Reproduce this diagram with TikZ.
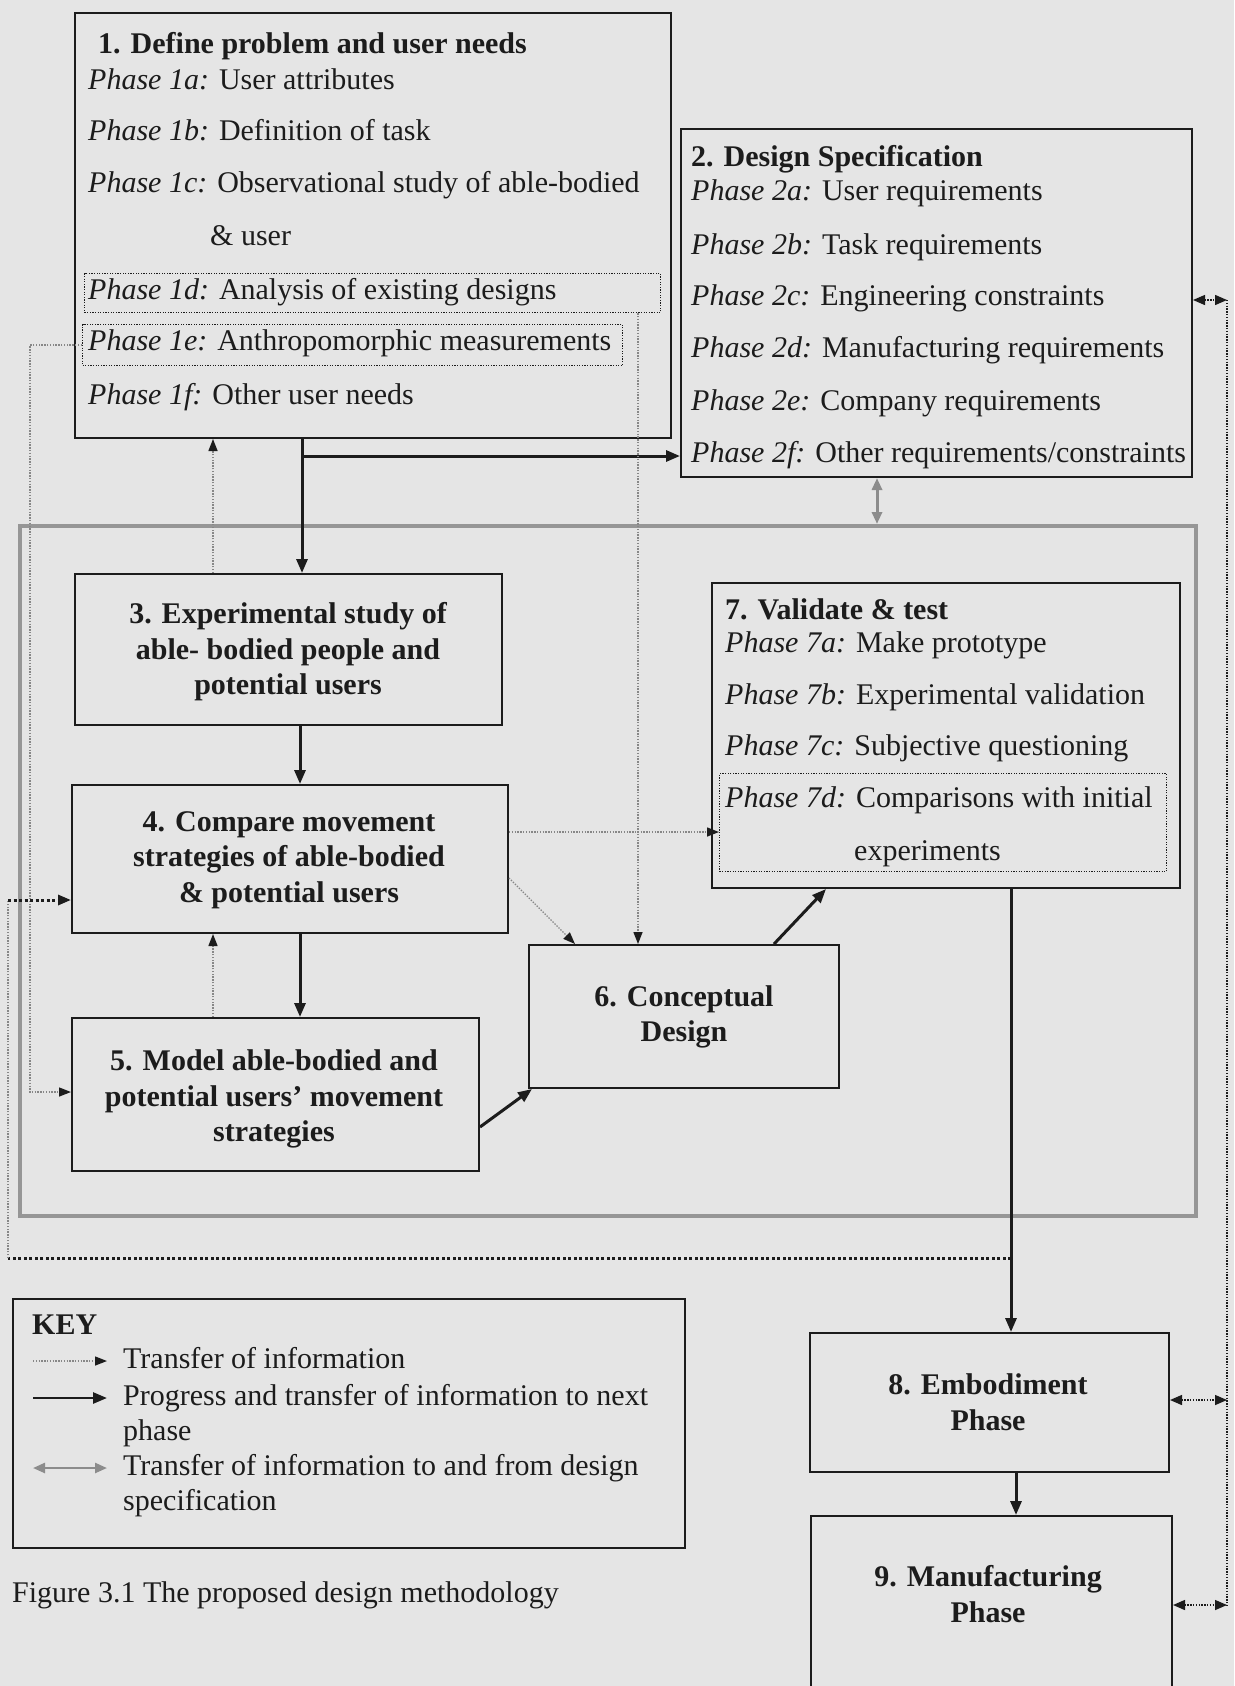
\documentclass[tikz,border=0pt]{standalone}
\usepackage{fontspec}
\setmainfont{Liberation Serif}
\usetikzlibrary{arrows.meta}
\definecolor{paper}{RGB}{229,229,229}
\definecolor{ink}{RGB}{28,28,28}
\definecolor{infogray}{RGB}{135,135,135}
\definecolor{framegray}{RGB}{150,150,150}
\definecolor{specgray}{RGB}{140,140,140}
\newcommand\dfont{\fontsize{30}{35.5}\selectfont}
\begin{document}
\begin{tikzpicture}[x=1pt,y=-1pt,
  every node/.style={text=ink},
  box/.style={draw=ink, line width=2pt, rectangle, inner sep=0pt, anchor=north west},
  dbox/.style={draw=ink, line width=1.2pt, dash pattern=on 1.2pt off 1.4pt, rectangle, inner sep=0pt, anchor=north west},
  cbox/.style={draw=ink, line width=2pt, rectangle, inner sep=0pt, align=center, font=\dfont\bfseries},
  ph/.style={anchor=west, inner sep=0pt, text height=21pt, text depth=7pt, font=\dfont},
  hd/.style={ph, font=\dfont\bfseries},
  ctext/.style={inner sep=0pt, align=center, font=\dfont\bfseries},
  prog/.style={draw=ink, line width=3pt, -{Triangle[length=14pt,width=11pt]}},
  info/.style={draw=infogray, line width=1.4pt, dash pattern=on 1.4pt off 1.4pt,
    -{Triangle[length=12pt,width=9pt,color=ink]}},
  loopd/.style={draw=ink, line width=3pt, dash pattern=on 3pt off 2.5pt},
  loopthin/.style={draw=infogray, line width=1.4pt, dash pattern=on 1.4pt off 1.4pt},
  spec/.style={draw=specgray, line width=3pt,
    {Triangle[length=12pt,width=10pt]}-{Triangle[length=12pt,width=10pt]}},
  both/.style={draw=ink, line width=1.4pt, dash pattern=on 1.4pt off 1.4pt,
    {Triangle[length=12pt,width=10pt]}-{Triangle[length=12pt,width=10pt]}}
]
\clip (0,0) rectangle (1234,1686);
\fill[paper] (0,0) rectangle (1234,1686);

% outer frame around phases 3 to 7
\node[draw=framegray, line width=4pt, rectangle, inner sep=0pt, anchor=north west,
  minimum width=1176pt, minimum height=690pt] (frame) at (18,524) {};

% box 1
\node[box, minimum width=596pt, minimum height=425pt] (b1) at (74,12) {};
\node[dbox, minimum width=576pt, minimum height=39pt] (d1d) at (84,273) {};
\node[dbox, minimum width=540pt, minimum height=41pt] (d1e) at (82,324) {};
\node[hd] (t1) at (98,47) {1. Define problem and user needs};
\node[ph] (l1a) at (88,82) {\textit{Phase 1a:} User attributes};
\node[ph] (l1b) at (88,133) {\textit{Phase 1b:} Definition of task};
\node[ph] (l1c) at (88,185) {\textit{Phase 1c:} Observational study of able-bodied};
\node[ph] (l1c2) at (210,238) {\& user};
\node[ph] (l1d) at (88,292) {\textit{Phase 1d:} Analysis of existing designs};
\node[ph] (l1e) at (88,343) {\textit{Phase 1e:} Anthropomorphic measurements};
\node[ph] (l1f) at (88,397) {\textit{Phase 1f:} Other user needs};

% box 2
\node[box, minimum width=511pt, minimum height=348pt] (b2) at (680,128) {};
\node[hd] (t2) at (691,159) {2. Design Specification};
\node[ph] (l2a) at (691,193) {\textit{Phase 2a:} User requirements};
\node[ph] (l2b) at (691,247) {\textit{Phase 2b:} Task requirements};
\node[ph] (l2c) at (691,298) {\textit{Phase 2c:} Engineering constraints};
\node[ph] (l2d) at (691,350) {\textit{Phase 2d:} Manufacturing requirements};
\node[ph] (l2e) at (691,403) {\textit{Phase 2e:} Company requirements};
\node[ph] (l2f) at (691,455) {\textit{Phase 2f:} Other requirements/constraints};

% boxes 3 to 6
\node[box, minimum width=427pt, minimum height=151pt] (b3) at (74,573) {};
\node[ctext] (t3) at (288,652) {3. Experimental study of\\able- bodied people and\\potential users};
\node[box, minimum width=436pt, minimum height=148pt] (b4) at (71,784) {};
\node[ctext] (t4) at (289,860) {4. Compare movement\\strategies of able-bodied\\\& potential users};
\node[box, minimum width=407pt, minimum height=153pt] (b5) at (71,1017) {};
\node[ctext] (t5) at (274,1099) {5. Model able-bodied and\\potential users’ movement\\strategies};
\node[box, minimum width=310pt, minimum height=143pt] (b6) at (528,944) {};
\node[ctext] (t6) at (684,1017) {6. Conceptual\\Design};

% box 7
\node[box, minimum width=468pt, minimum height=305pt] (b7) at (711,582) {};
\node[dbox, minimum width=447pt, minimum height=98pt] (d7d) at (719,773) {};
\node[hd] (t7) at (725,612) {7. Validate \& test};
\node[ph] (l7a) at (725,645) {\textit{Phase 7a:} Make prototype};
\node[ph] (l7b) at (725,697) {\textit{Phase 7b:} Experimental validation};
\node[ph] (l7c) at (725,748) {\textit{Phase 7c:} Subjective questioning};
\node[ph] (l7d) at (725,800) {\textit{Phase 7d:} Comparisons with initial};
\node[ph] (l7d2) at (854,853) {experiments};

% boxes 8 and 9
\node[box, minimum width=359pt, minimum height=139pt] (b8) at (809,1332) {};
\node[ctext] (t8) at (988,1402) {8. Embodiment\\Phase};
\node[box, minimum width=361pt, minimum height=215pt] (b9) at (810,1515) {};
\node[ctext] (t9) at (988,1594) {9. Manufacturing\\Phase};

% key
\node[box, minimum width=672pt, minimum height=249pt] (key) at (12,1298) {};
\node[hd] (kt) at (32,1327) {KEY};
\coordinate (ka1) at (33,1361); \coordinate (kb1) at (107,1361);
\coordinate (ka2) at (33,1398); \coordinate (kb2) at (107,1398);
\coordinate (ka3) at (33,1468); \coordinate (kb3) at (107,1468);
\draw[info] (ka1) -- (kb1);
\draw[prog, line width=2.6pt] (ka2) -- (kb2);
\draw[spec, line width=2.4pt] (ka3) -- (kb3);
\node[ph] (k1) at (123,1361) {Transfer of information};
\node[ph] (k2) at (123,1398) {Progress and transfer of information to next};
\node[ph] (k2b) at (123,1433) {phase};
\node[ph] (k3) at (123,1468) {Transfer of information to and from design};
\node[ph] (k3b) at (123,1503) {specification};

% caption
\node[ph] (cap) at (12,1595) {Figure 3.1 The proposed design methodology};

% progress connectors
\coordinate (j1) at (302,456);
\draw[prog] (j1 |- b1.south) -- (j1 |- b3.north);
\draw[prog] (j1) -- (j1 -| b2.west);
\coordinate (x34) at (300,0);
\draw[prog] (x34 |- b3.south) -- (x34 |- b4.north);
\draw[prog] (x34 |- b4.south) -- (x34 |- b5.north);
\coordinate (h56) at (0,1127);
\draw[prog] (b5.east |- h56) -- ([xshift=4pt]b6.south west);
\coordinate (x67a) at (774,0);
\coordinate (x67b) at (826,0);
\draw[prog] (x67a |- b6.north) -- (x67b |- b7.south);
\coordinate (x78) at (1011,0);
\draw[prog] (x78 |- b7.south) -- (x78 |- b8.north);
\coordinate (x89) at (1016,0);
\draw[prog] (x89 |- b8.south) -- (x89 |- b9.north);

% information connectors
\coordinate (xu) at (213,0);
\draw[info] (xu |- b3.north) -- (xu |- b1.south);
\draw[info] (xu |- b5.north) -- (xu |- b4.south);
\coordinate (x16) at (638,0);
\draw[info] (x16 |- d1d.south) -- (x16 |- b6.north);
\coordinate (xl) at (30,0);
\coordinate (h15) at (0,1092);
\draw[info] (d1e.west) -- (xl |- d1e.west) -- (xl |- h15) -- (b5.west |- h15);
\coordinate (h47) at (0,832);
\draw[info] (b4.east |- h47) -- (d7d.west |- h47);
\coordinate (h46) at (0,878);
\coordinate (x46) at (575,0);
\draw[info] (b4.east |- h46) -- (x46 |- b6.north);

% feedback loop from validation back to phase 4
\coordinate (lp) at (1011,1258);
\coordinate (lpa) at (8,1258);
\coordinate (lpb) at (8,900);
\draw[loopd] (lp) -- (lpa);
\draw[loopthin] (lpa) -- (lpb);
\draw[loopd, -{Triangle[length=13pt,width=10pt]}] (lpb) -- (b4.west |- lpb);

% exchanges with the design specification
\coordinate (xg) at (877,0);
\draw[spec] (xg |- b2.south) -- (xg |- frame.north);
\coordinate (r2) at (1227,300);
\coordinate (r8) at (1227,1400);
\coordinate (r9) at (1227,1605);
\draw[loopthin, draw=ink, line width=1.2pt] (r2) -- (r9);
\draw[both] (b2.east |- r2) -- (r2);
\draw[both] (b8.east |- r8) -- (r8);
\draw[both] (b9.east |- r9) -- (r9);
\end{tikzpicture}
\end{document}
